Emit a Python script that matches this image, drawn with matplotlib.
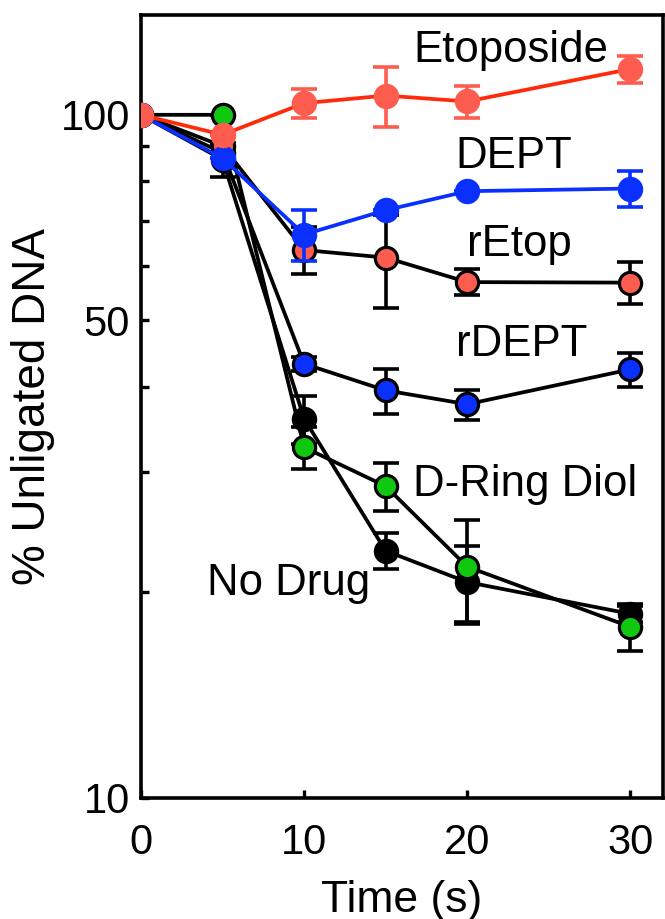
import matplotlib
matplotlib.use("Agg")
import matplotlib.pyplot as plt
from matplotlib.ticker import FixedLocator, NullFormatter, FixedFormatter

plt.rcParams['font.family'] = ['Liberation Sans', 'DejaVu Sans']

time = [0, 5, 10, 15, 20, 30]

etoposide = [100, 93.5, 104, 106.7, 104.6, 116.7]
etoposide_err = [0, 0, 5.2, 10.7, 5.7, 5.4]

dept = [100, 86.4, 66.8, 72.5, 77.3, 78.0]
dept_err = [0, 0, 5.7, 0, 0, 4.8]

retop = [100, 90, 63.4, 61.8, 56.9, 56.8]
retop_err = [0, 0, 5.0, 9.6, 2.5, 4.0]

rdept = [100, 88, 43.2, 39.5, 37.7, 42.4]
rdept_err = [0, 0, 1.0, 3.0, 1.9, 2.4]

nodrug = [100, 86, 35.9, 23.0, 20.7, 18.6]
nodrug_err = [0, 5.0, 2.9, 1.4, 2.7, 0.5]

diol = [100, 100, 32.6, 28.6, 21.8, 17.8]
diol_err = [0, 0, 2.3, 2.3, 3.7, 1.4]

labels = ["Etoposide", "DEPT", "rEtop", "rDEPT", "D-Ring Diol", "No Drug"]
label_x = [16.7, 19.3, 20.0, 19.3, 16.7, 4.05]
label_y = [124.4, 86.8, 64.6, 46.1, 28.8, 20.6]

salmon = "#FF5C50"
red_line = "#FF2A0A"
blue = "#0A30FF"
green = "#10C810"

fig = plt.figure(figsize=(6.65, 9.19), dpi=100)
ax = fig.add_axes([0.212, 0.1317, 0.785, 0.852])

ms = 16
lw = 2.7
cs = 9.5
ew = 2.6

def series(y, err, mfc, mec, lc, ecol, z):
    ax.errorbar(time, y, yerr=err, fmt='o', color=ecol, ecolor=ecol,
                elinewidth=ew, capsize=cs, capthick=ew, markersize=0,
                zorder=z, linestyle='none')
    ax.plot(time, y, '-', color=lc, lw=lw, zorder=z + 0.1)
    ax.plot(time, y, 'o', markersize=ms, markerfacecolor=mfc,
            markeredgecolor=mec, markeredgewidth=2.3, zorder=z + 0.2, linestyle='none')

series(nodrug, nodrug_err, 'black', 'black', 'black', 'black', 2)
series(diol, diol_err, green, 'black', 'black', 'black', 3)
series(rdept, rdept_err, blue, 'black', 'black', 'black', 4)
series(retop, retop_err, salmon, 'black', 'black', 'black', 5)
series(dept, dept_err, blue, blue, blue, blue, 6)
series(etoposide, etoposide_err, salmon, salmon, red_line, salmon, 7)

for t, x, y in zip(labels, label_x, label_y):
    ax.text(x, y, t, fontsize=31.5, ha='left', va='center', zorder=10)

ax.set_yscale('log')
ax.set_xlim(0, 32)
ax.set_ylim(10, 140)
ax.yaxis.set_major_locator(FixedLocator([10, 50, 100]))
ax.yaxis.set_major_formatter(FixedFormatter(['10', '50', '100']))
ax.yaxis.set_minor_locator(FixedLocator([20, 30, 40, 60, 70, 80, 90]))
ax.yaxis.set_minor_formatter(NullFormatter())
ax.set_xticks([0, 10, 20, 30])
ax.set_xticklabels(['0', '10', '20', '30'])

ax.tick_params(axis='both', which='both', direction='in', width=2.4,
               labelsize=30, top=False, right=False)
ax.tick_params(which='major', length=6)
ax.tick_params(which='minor', length=6)
ax.tick_params(axis='y', which='major', pad=8)
ax.tick_params(axis='x', which='major', pad=18)

for s in ax.spines.values():
    s.set_linewidth(2.6)

ax.set_xlabel("Time (s)", fontsize=32, labelpad=12)
ax.set_ylabel("% Unligated DNA", fontsize=33, labelpad=4)

fig.savefig("out.png", dpi=100)
